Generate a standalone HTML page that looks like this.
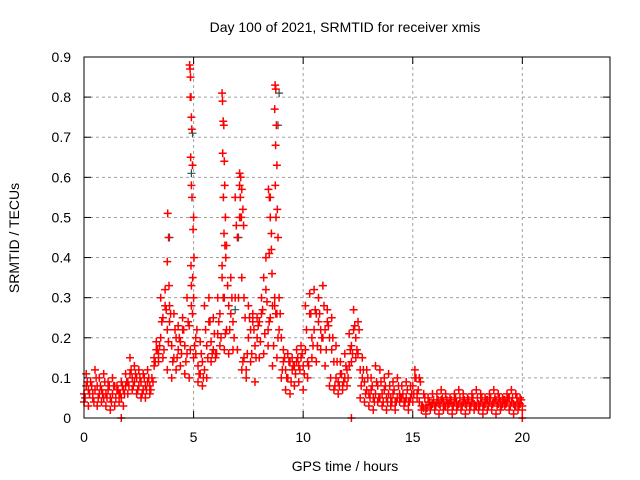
<!DOCTYPE html>
<html><head><meta charset="utf-8"><style>
html,body{margin:0;padding:0;background:#fff;}
svg{display:block;font-family:"Liberation Sans",sans-serif;}
</style></head><body>
<svg id="chart" width="640" height="480">
<text x="345" y="32" text-anchor="middle" font-size="14">Day 100 of 2021, SRMTID for receiver xmis</text>
<text transform="translate(19,238) rotate(-90)" text-anchor="middle" font-size="14">SRMTID / TECUs</text>
<text x="345" y="471" text-anchor="middle" font-size="14">GPS time / hours</text>
<g id="grid"></g>
<g id="marks"></g>
<rect x="84" y="57" width="526" height="361" fill="none" stroke="#000" stroke-width="1"/>
</svg>
<script>
const xTicks=[0,5,10,15,20];
const yTicks=[0,0.1,0.2,0.3,0.4,0.5,0.6,0.7,0.8,0.9];
const yTickLabels=["0","0.1","0.2","0.3","0.4","0.5","0.6","0.7","0.8","0.9"];
// mid series, every 0.1 h from 0 to 20
const midVals=[0.06,0.08,0.07,0.09,0.06,0.07,0.08,0.06,0.07,0.05,
0.06,0.07,0.05,0.06,0.08,0.07,0.06,0.05,0.07,0.08,
0.09,0.11,0.10,0.09,0.10,0.08,0.09,0.07,0.08,0.09,
0.08,0.10,0.15,0.17,0.16,0.20,0.25,0.28,0.22,0.24,
0.18,0.15,0.20,0.17,0.19,0.22,0.18,0.16,0.23,0.28,
0.30,0.16,0.13,0.11,0.14,0.12,0.18,0.24,0.19,0.17,
0.16,0.21,0.26,0.35,0.30,0.22,0.28,0.26,0.24,0.30,
0.45,0.50,0.35,0.15,0.12,0.20,0.22,0.24,0.18,0.20,
0.24,0.26,0.35,0.40,0.22,0.25,0.28,0.30,0.26,0.22,
0.20,0.14,0.12,0.10,0.14,0.12,0.13,0.14,0.13,0.15,
0.13,0.17,0.14,0.26,0.20,0.22,0.26,0.24,0.22,0.20,
0.22,0.24,0.20,0.17,0.14,0.10,0.09,0.11,0.08,0.10,
0.12,0.13,0.18,0.22,0.20,0.16,0.12,0.10,0.09,0.07,
0.06,0.07,0.05,0.06,0.08,0.05,0.06,0.07,0.05,0.06,
0.05,0.06,0.04,0.05,0.06,0.05,0.04,0.05,0.04,0.05,
0.08,0.10,0.06,0.04,0.03,0.025,0.03,0.04,0.03,0.035,
0.03,0.04,0.035,0.045,0.04,0.03,0.035,0.04,0.03,0.04,
0.04,0.035,0.03,0.04,0.035,0.045,0.03,0.04,0.035,0.03,
0.035,0.04,0.03,0.035,0.045,0.04,0.03,0.04,0.045,0.035,
0.04,0.035,0.045,0.04,0.05,0.04,0.035,0.03,0.04,0.035,
0.03];
// low envelope, every 0.2 h from 0
const loVals=[0.04,0.03,0.05,0.03,0.04,0.03,0.02,0.03,0.04,0.03,
0.06,0.07,0.06,0.05,0.05,0.06,0.13,0.14,0.15,0.12,
0.10,0.12,0.13,0.11,0.10,0.15,0.09,0.08,0.10,0.14,
0.15,0.18,0.17,0.16,0.17,0.17,0.12,0.10,0.14,0.09,
0.15,0.16,0.18,0.13,0.15,0.10,0.07,0.06,0.08,0.09,
0.07,0.10,0.15,0.14,0.17,0.13,0.08,0.07,0.06,0.07,
0.08,0.14,0.15,0.05,0.04,0.03,0.02,0.04,0.03,0.02,
0.03,0.02,0.04,0.03,0.02,0.04,0.05,0.02,0.01,0.02,
0.02,0.01,0.02,0.02,0.01,0.02,0.02,0.01,0.02,0.02,
0.02,0.01,0.02,0.02,0.01,0.02,0.03,0.02,0.01,0.02,0.02];
// lower-middle band, every 0.2 h from 0.05
const q1Vals=[0.05,0.06,0.04,0.05,0.06,0.05,0.04,0.05,0.06,0.06,
0.08,0.08,0.07,0.06,0.07,0.07,0.14,0.18,0.17,0.19,
0.14,0.15,0.16,0.14,0.17,0.18,0.11,0.10,0.15,0.16,
0.16,0.20,0.21,0.22,0.20,0.30,0.14,0.16,0.16,0.15,
0.19,0.21,0.24,0.18,0.20,0.12,0.10,0.09,0.11,0.12,
0.11,0.13,0.18,0.18,0.20,0.17,0.10,0.08,0.08,0.09,
0.10,0.16,0.17,0.08,0.06,0.05,0.04,0.05,0.04,0.04,
0.04,0.04,0.05,0.04,0.04,0.06,0.07,0.03,0.025,0.03,
0.03,0.03,0.03,0.035,0.03,0.03,0.03,0.03,0.03,0.03,
0.03,0.03,0.03,0.035,0.03,0.03,0.035,0.03,0.03,0.03];
// upper-middle band, every 0.2 h from 0.15
const q3Vals=[0.09,0.08,0.10,0.08,0.09,0.08,0.08,0.07,0.08,0.09,
0.12,0.11,0.10,0.10,0.10,0.09,0.17,0.24,0.27,0.26,
0.22,0.20,0.22,0.24,0.26,0.22,0.16,0.22,0.24,0.21,
0.24,0.30,0.33,0.30,0.48,0.50,0.25,0.25,0.22,0.23,
0.27,0.29,0.42,0.26,0.26,0.15,0.14,0.13,0.15,0.16,
0.22,0.26,0.27,0.26,0.28,0.23,0.20,0.14,0.11,0.13,
0.17,0.23,0.22,0.12,0.10,0.08,0.09,0.09,0.08,0.08,
0.07,0.08,0.06,0.07,0.06,0.10,0.09,0.05,0.04,0.045,
0.045,0.05,0.045,0.045,0.05,0.05,0.045,0.045,0.05,0.05,
0.05,0.045,0.05,0.05,0.05,0.045,0.05,0.05,0.05,0.045];
// high envelope, every 0.2 h from 0.1
const hiVals=[0.11,0.09,0.12,0.10,0.11,0.09,0.10,0.08,0.09,0.11,
0.15,0.13,0.12,0.11,0.12,0.10,0.19,0.30,0.32,0.28,
0.26,0.23,0.25,0.30,0.33,0.20,0.19,0.28,0.30,0.25,
0.30,0.38,0.43,0.35,0.55,0.58,0.30,0.28,0.26,0.25,
0.30,0.32,0.55,0.28,0.30,0.17,0.16,0.15,0.17,0.18,
0.28,0.31,0.32,0.30,0.33,0.27,0.25,0.18,0.14,0.16,
0.21,0.27,0.24,0.15,0.12,0.10,0.13,0.12,0.10,0.11,
0.09,0.10,0.08,0.09,0.08,0.12,0.10,0.06,0.05,0.06,
0.06,0.07,0.06,0.05,0.06,0.07,0.06,0.05,0.06,0.07,
0.06,0.05,0.06,0.07,0.06,0.05,0.06,0.07,0.06,0.05];
// spike points
const spikeTimes=[4.82,4.84,4.86,4.88,4.85,4.9,4.92,4.87,4.95,4.9,4.93,5.0,4.98,5.02,4.88,4.96,
3.82,3.86,3.8,3.88,
6.3,6.32,6.35,6.38,6.33,6.4,6.42,6.36,6.45,6.39,6.43,6.47,
7.1,7.15,7.2,7.13,7.25,7.18,7.28,
8.72,8.75,8.7,8.78,8.74,8.8,8.73,8.82,8.76,8.85,
8.42,8.46,8.5,8.55,8.45,8.58];
const spikeVals=[0.88,0.87,0.85,0.80,0.80,0.75,0.72,0.65,0.63,0.58,0.55,0.50,0.47,0.40,0.38,0.35,
0.51,0.45,0.39,0.33,
0.81,0.79,0.74,0.73,0.66,0.64,0.58,0.55,0.50,0.46,0.43,0.40,
0.61,0.60,0.57,0.55,0.52,0.50,0.48,
0.83,0.82,0.77,0.73,0.68,0.63,0.58,0.52,0.50,0.45,
0.57,0.55,0.50,0.46,0.41,0.36];
const zeroTimes=[1.7,12.2,20.0];
const greyTimes=[4.95,3.9,8.85,8.9,4.9,7.05,6.9,10.9];
const greyVals=[0.71,0.45,0.73,0.81,0.61,0.45,0.27,0.33];

const X0=84,X1=610,Y0=418,Y1=57;
const xs=t=>X0+(t/24)*(X1-X0);
const ys=v=>Y0-(v/0.9)*(Y0-Y1);
const NS="http://www.w3.org/2000/svg";
const grid=document.getElementById('grid'),marks=document.getElementById('marks');
function mk(tag,attrs,parent){const e=document.createElementNS(NS,tag);for(const k in attrs)e.setAttribute(k,attrs[k]);parent.appendChild(e);return e;}
yTicks.forEach((v,i)=>{
  const y=ys(v);
  if(i>0&&i<yTicks.length-1){const g=mk('line',{x1:X0,x2:X1,y1:y,y2:y,stroke:'#a0a0a0','stroke-dasharray':'3,3'},grid);
  
  }
  mk('line',{x1:X0,x2:X0+7,y1:y,y2:y,stroke:'#000'},grid);
  mk('line',{x1:X1,x2:X1-7,y1:y,y2:y,stroke:'#000'},grid);
  const t=mk('text',{x:71,y:y+5,'text-anchor':'end','font-size':'14'},grid);t.textContent=yTickLabels[i];
  
  
});
xTicks.forEach(v=>{
  const x=xs(v);
  if(v>0){const g=mk('line',{x1:x,x2:x,y1:Y0,y2:Y1,stroke:'#a0a0a0','stroke-dasharray':'3,3'},grid);
  
  }
  mk('line',{x1:x,x2:x,y1:Y0,y2:Y0-7,stroke:'#000'},grid);
  mk('line',{x1:x,x2:x,y1:Y1,y2:Y1+7,stroke:'#000'},grid);
  const t=mk('text',{x:x,y:442,'text-anchor':'middle','font-size':'14'},grid);t.textContent=String(v);
  
  
});
let d='';
function cross(t,v){const x=xs(t),y=ys(v);d+=`M${(x-4).toFixed(1)} ${y.toFixed(1)}h8M${x.toFixed(1)} ${(y-4).toFixed(1)}v8`;}
let dg='';
greyVals.forEach((v,i)=>{const x=xs(greyTimes[i]),y=ys(v);dg+=`M${(x-4).toFixed(1)} ${y.toFixed(1)}h8M${x.toFixed(1)} ${(y-4).toFixed(1)}v8`;});
midVals.forEach((v,i)=>cross(i*0.1,v));
loVals.forEach((v,i)=>cross(i*0.2,v));
q1Vals.forEach((v,i)=>cross(0.05+i*0.2,v));
q3Vals.forEach((v,i)=>cross(0.15+i*0.2,v));
hiVals.forEach((v,i)=>cross(0.1+i*0.2,v));
spikeVals.forEach((v,i)=>cross(spikeTimes[i],v));
zeroTimes.forEach(t=>cross(t,0));
const pg=mk('path',{d:dg,stroke:'#2f4f4f','stroke-width':'1.2',fill:'none'},marks);


const pr=mk('path',{d:d,stroke:'#ff0000','stroke-width':'1.5',fill:'none'},marks);


</script>
</body></html>
